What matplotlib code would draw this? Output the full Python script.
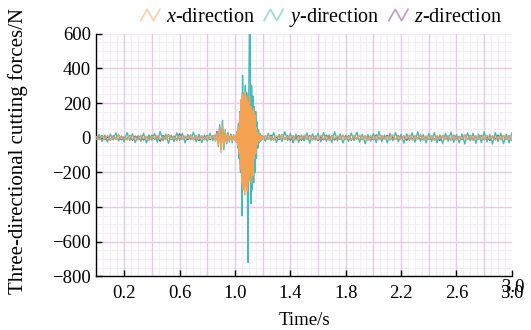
import numpy as np
import matplotlib
matplotlib.use("Agg")
from matplotlib import pyplot as plt
from matplotlib.legend_handler import HandlerBase
from matplotlib.lines import Line2D

plt.rcParams["font.family"] = ["Liberation Serif", "DejaVu Serif"]
plt.rcParams["mathtext.fontset"] = "custom"
plt.rcParams["mathtext.rm"] = "Liberation Serif"
plt.rcParams["mathtext.it"] = "Liberation Serif:italic"
plt.rcParams["font.size"] = 13.5

# sampling of the four stretches of the record (start, step)
seg_start = [0.00, 0.85, 1.005, 1.22]
seg_step = [0.02, 0.01, 0.005, 0.02]

# x-direction force, N
x_pre = [5, -12, 10, -8, 14, -15, 6, -10, 12, -6, 9, -14, 11, -9, 4, -13, 15, -7, 8, -16,
         10, -5, 13, -11, 7, -12, 16, -8, 5, -14, 12, -10, 9, -6, 14, -13, 8, -9, 11, -15,
         10, -7, 6]
x_small = [10, -15, 25, -40, 60, -85, 70, -50, 35, -25, 20, -15, 12, -18, 10, -12]
x_burst = [15, -20, 30, -45, 60, -90, 140, -180, 220, -260, 250, -300, 240, -330, 260, -280,
           230, -310, 200, -250, 240, -200, 180, -260, 150, -220, 170, -120, 130, -90,
           60, -40, 30, -25, 20, -15, 12, -10, 8, -6]
x_post = [12, -10, 8, -14, 11, -7, 15, -12, 9, -6, 13, -15, 7, -10, 16, -9, 10, -13, 6, -11,
          14, -8, 9, -16, 12, -7, 10, -12, 15, -9, 8, -14, 11, -6, 13, -10, 9, -15, 12, -8,
          10, -13, 14, -7, 8, -11, 16, -10, 9, -12, 11, -6, 13, -14, 7, -9, 15, -11, 10, -8,
          12, -15, 9, -7, 14, -12, 8, -10, 11, -13, 6, -9, 15, -11, 10, -14, 12, -8, 9, -10,
          13, -7, 11, -15, 8, -12, 14, -9, 10, -11]

# y-direction force, N
y_pre = [-10, 18, -22, 15, -25, 20, -12, 28, -18, 10, -24, 30, -15, 22, -28, 12, -20, 26, -30, 16,
         -14, 24, -26, 35, -18, 20, -32, 14, -22, 28, -16, 25, -30, 18, -12, 32, -24, 20, -28, 15,
         -20, 26, -18]
y_small = [15, -20, 30, -50, 75, -60, 100, -70, 45, -35, 30, -25, 20, -30, 18, -15]
y_burst = [10, -25, 35, -60, 80, -120, 150, -200, 180, -450, 360, -250, 220, -280, 300, -240,
           260, -320, -720, 250, 700, 720, -380, 300, -300, 240, -260, 180, -200, 150,
           -120, 90, -60, 45, -30, 25, -20, 15, -12, 10]
y_post = [-20, 25, -15, 30, -28, 18, -22, 35, -16, 24, -30, 20, -26, 15, -18, 28, -32, 22, -14, 26,
          -24, 30, -20, 16, -28, 34, -18, 22, -30, 14, -22, 27, -16, 32, -26, 20, -34, 18, -20, 24,
          -28, 35, -22, 16, -30, 26, -18, 30, -24, 20, -32, 22, -16, 28, -26, 34, -20, 18, -30, 25,
          -22, 30, -28, 16, -34, 24, -20, 32, -26, 18, -30, 22, -36, 28, -18, 26, -32, 20, -28, 34,
          -24, 18, -36, 30, -22, 26, -34, 20, -30, 28]

# z-direction force, N
z_pre = [8, -6, 12, -10, 5, -14, 10, -8, 15, -12, 6, -9, 13, -15, 9, -6, 11, -13, 7, -10,
         14, -8, 10, -20, 12, -7, 16, -11, 9, -14, 22, -10, 8, -12, 15, -9, 11, -16, 10, -8,
         13, -11, 9]
z_small = [12, -10, 35, -30, 55, -40, 45, -30, 25, -20, 15, -12, 18, -10, 8, -12]
z_burst = [8, -12, 20, -35, 50, -80, 110, -150, 200, -330, 260, -200, 180, -240, 210, -260,
           190, -300, 230, -180, 150, -200, 170, -220, 120, -160, 140, -100, 90, -70,
           50, -35, 25, -18, 14, -10, 8, -6, 5, -4]
z_post = [10, -8, 14, -12, 6, -10, 16, -9, 11, -14, 8, -6, 12, -15, 10, -8, 13, -11, 9, -16,
          7, -12, 15, -9, 11, -13, 6, -10, 14, -8, 12, -15, 9, -7, 13, -11, 10, -14, 8, -12,
          16, -9, 11, -6, 14, -13, 7, -10, 12, -8, 9, -15, 13, -11, 10, -7, 15, -12, 8, -10,
          11, -14, 9, -16, 12, -8, 10, -13, 14, -9, 7, -11, 15, -10, 12, -14, 8, -9, 13, -12,
          10, -15, 9, -8, 14, -11, 12, -10, 11, -13]

labels = ["$x$-direction", "$y$-direction", "$z$-direction"]
colors = ["#f5a352", "#3fbcbc", "#8c3f92"]


def build(segments):
    t, f = [], []
    for start, step, vals in zip(seg_start, seg_step, segments):
        t.append(start + step * np.arange(len(vals)))
        f.append(np.array(vals, dtype=float))
    return np.concatenate(t), np.concatenate(f)


series = [build([x_pre, x_small, x_burst, x_post]),
          build([y_pre, y_small, y_burst, y_post]),
          build([z_pre, z_small, z_burst, z_post])]


class ZigZag(HandlerBase):
    def create_artists(self, legend, orig_handle, xdescent, ydescent,
                       width, height, fontsize, trans):
        xs = np.array([0, 1 / 3, 2 / 3, 1]) * width - xdescent
        ys = np.array([0.1, 0.9, 0.1, 0.9]) * height - ydescent
        line = Line2D(xs, ys, color=orig_handle.get_color(), lw=1.3, alpha=0.5)
        line.set_transform(trans)
        return [line]


fig = plt.figure(figsize=(5.31, 3.30), dpi=100)
ax = fig.add_axes([0.1817, 0.1624, 0.7823, 0.7356])

# graph-paper background
for v in np.arange(0, 3.001, 0.05):
    ax.axvline(v, color="#f6ebf6", lw=0.8, zorder=0)
for v in np.arange(-800, 601, 50):
    ax.axhline(v, color="#f6ebf6", lw=0.8, zorder=0)
for v in np.arange(0.2, 3.0, 0.2):
    ax.axvline(v, color="#e6cbe8", lw=1.0, zorder=0.5)
for v in np.arange(-600, 600, 200):
    ax.axhline(v, color="#e6cbe8", lw=1.0, zorder=0.5)

order = [2, 1, 0]
handles = [None] * 3
for i in order:
    t, f = series[i]
    handles[i], = ax.plot(t, f, color=colors[i], lw=1.0, zorder=2 + (2 - i))

ax.set_xlim(0, 3.0)
ax.set_ylim(-800, 600)
ax.set_xticks([0.2, 0.6, 1.0, 1.4, 1.8, 2.2, 2.6, 3.0])
ax.set_xticklabels(["0.2", "0.6", "1.0", "1.4", "1.8", "2.2", "2.6", "3.0"])
ax.set_yticks(np.arange(-800, 601, 200))
ax.set_yticklabels(["\u2212800", "\u2212600", "\u2212400", "\u2212200", "0", "200", "400", "600"])
ax.tick_params(direction="in", length=4, width=1, labelsize=13.5)
ax.tick_params(axis="x", pad=6)
ax.tick_params(axis="y", pad=4)
for s in ["top", "right"]:
    ax.spines[s].set_visible(False)
for s in ["left", "bottom"]:
    ax.spines[s].set_linewidth(1.0)

# duplicated end label as in the original
ax.annotate("3.0", xy=(3.0, 0), xycoords=("data", "axes fraction"),
            xytext=(0.8, -2), textcoords="offset points", ha="center", va="top", fontsize=13.5)

ax.set_xlabel("Time/s", fontsize=13.5)
ax.xaxis.set_label_coords(0.5, -0.145)
ax.set_ylabel("Three-directional cutting forces/N", fontsize=15)
ax.yaxis.set_label_coords(-0.165, 0.515)

fig.legend(handles, labels, handler_map={Line2D: ZigZag()}, ncol=3, frameon=False,
           loc="upper right", bbox_to_anchor=(502 / 531, 1 - 6 / 330), fontsize=14.5,
           borderpad=0, borderaxespad=0,
           handlelength=0.95, handletextpad=0.3, columnspacing=0.45)

fig.savefig("out.png", dpi=100)
